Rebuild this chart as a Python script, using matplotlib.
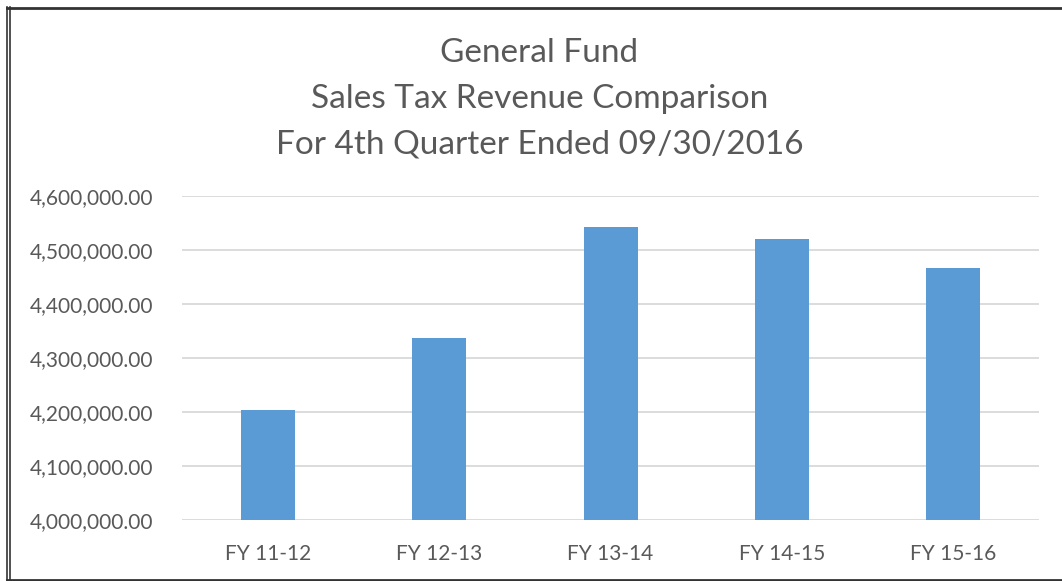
import matplotlib
matplotlib.use("Agg")
import matplotlib.pyplot as plt
from matplotlib.ticker import FuncFormatter
from matplotlib.lines import Line2D

years = ["FY 11-12", "FY 12-13", "FY 13-14", "FY 14-15", "FY 15-16"]
revenue = [4203700, 4337000, 4542600, 4519800, 4466700]
title_lines = ["General Fund", "Sales Tax Revenue Comparison", "For 4th Quarter Ended 09/30/2016"]

plt.rcParams["font.family"] = ["Lato", "DejaVu Sans"]
txt = "#595959"

fig = plt.figure(figsize=(10.62, 5.81), dpi=100)
ax = fig.add_axes([0.1714, 0.105, 0.807, 0.5577])

ax.bar(years, revenue, width=0.315, color="#5b9bd5", zorder=3)
ax.set_xlim(-0.5, len(years) - 0.5)
ax.set_ylim(4000000, 4600000)
ax.set_yticks(range(4000000, 4600001, 100000))
ax.yaxis.set_major_formatter(FuncFormatter(lambda v, p: f"{v:,.2f}"))
ax.grid(axis="y", color="#d9d9d9", linewidth=1.3, zorder=0)
for s in ax.spines.values():
    s.set_visible(False)
ax.tick_params(axis="both", length=0, colors=txt)
ax.tick_params(axis="y", labelsize=15, pad=21)
ax.tick_params(axis="x", labelsize=15, pad=17)

for i, line in enumerate(title_lines):
    fig.text(0.508, 1 - (62 + i * 45.8) / 581, line, ha="center", va="baseline",
             fontsize=24, color=txt)

# frame around the chart
fig.add_artist(Line2D([7 / 1062, 7 / 1062], [0, 1 - 7 / 581], color="#333333", lw=1.2))
fig.add_artist(Line2D([10 / 1062, 10 / 1062], [1.5 / 581, 1 - 7 / 581], color="#333333", lw=1.2))
fig.add_artist(Line2D([7 / 1062, 1], [1 - 7.5 / 581, 1 - 7.5 / 581], color="#333333", lw=2))
fig.add_artist(Line2D([7 / 1062, 1], [1.5 / 581, 1.5 / 581], color="#333333", lw=2))

fig.savefig("out.png", dpi=100)
